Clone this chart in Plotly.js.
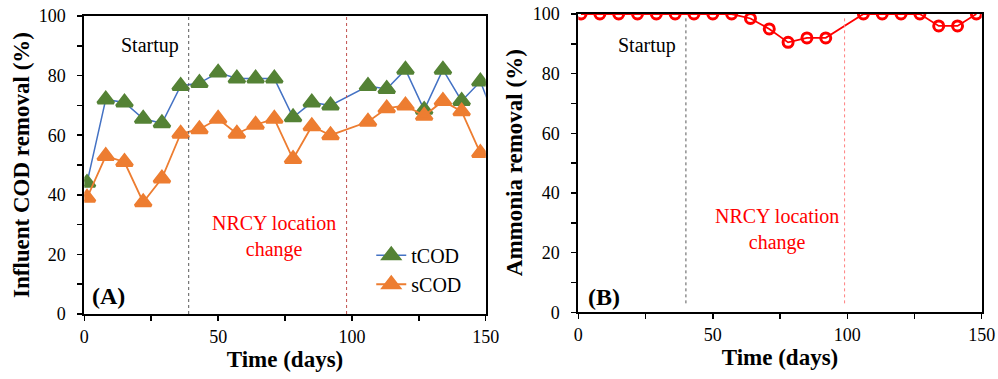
<!DOCTYPE html>
<html><head><meta charset="utf-8">
<script src="https://cdn.plot.ly/plotly-3.0.1.min.js"></script>
<style>html,body{margin:0;padding:0;background:#fff;}</style>
</head><body><div id="chart" style="width:998px;height:379px;"></div>
<script>
// ---- data ----
const days = [1,8,15,22,29,36,43,50,57,64,71,78,85,92,106,113,120,127,134,141,148];
const tCODdays = [1,8,15,22,29,36,43,50,57,64,71,78,85,92,106,113,120,127,134,141,148,155];
const tCOD = [44,72,71,65.5,64,76.5,77.5,81,79,79,79,66,71,70,76.5,75.5,82,68.5,82,71.5,78,62];
const sCOD = [39,53,51,37.5,45.5,60.5,62,65.5,60.5,63.5,65.5,52,63,60,64.5,69,70,66.5,71.5,68,54];
const ammonia = [100,100,100,100,100,100,100,100,100,98.5,95,90.5,92,92,100,100,100,100,96,96,100];
const phaseA = [39, 98];   // startup end, NRCY change (panel A)
const phaseB = [40, 99];   // panel B
const xTickVals = [0,50,100,150];
const yTickVals = [0,20,40,60,80,100];

const serif = 'Liberation Serif';
const traces = [
  {x: tCODdays, y: tCOD, name: 'tCOD', type: 'scatter', mode: 'lines+markers', xaxis: 'x', yaxis: 'y',
   line: {color: '#4472C4', width: 1.5},
   marker: {symbol: 'triangle-up', size: 14, color: '#548235', line: {color: '#548235', width: 3}}},
  {x: days, y: sCOD, name: 'sCOD', type: 'scatter', mode: 'lines+markers', xaxis: 'x', yaxis: 'y',
   line: {color: '#ED7D31', width: 1.8},
   marker: {symbol: 'triangle-up', size: 14, color: '#ED7D31', line: {color: '#ED7D31', width: 3}}},
  {x: days, y: ammonia, name: 'Ammonia', type: 'scatter', mode: 'lines+markers', xaxis: 'x2', yaxis: 'y2',
   showlegend: false,
   line: {color: '#FF0000', width: 1.8},
   marker: {symbol: 'circle-open', size: 10, color: '#FF0000', line: {color: '#FF0000', width: 3}}}
];

function axisBase(extra) {
  return Object.assign({
    showline: true, linewidth: 2, linecolor: '#000', mirror: true,
    ticks: 'outside', ticklen: 5, tickwidth: 1.5, tickcolor: '#000',
    showgrid: false, zeroline: false, automargin: false, fixedrange: true,
    tickfont: {family: serif, size: 18, color: '#000'}
  }, extra);
}
const titleFont = {family: serif, size: 23, color: '#000'};

const xCommon = {range: [0, 150], tickmode: 'array', tickvals: xTickVals,
  minor: {dtick: 25, tick0: 0, ticks: 'outside', ticklen: 5, tickwidth: 1.5, tickcolor: '#000', showgrid: false},
  title: {text: '<b>Time (days)</b>', font: titleFont, standoff: 2}};
const yCommon = {range: [0, 100], tickmode: 'array', tickvals: yTickVals, ticklabelstandoff: 8,
  minor: {dtick: 10, tick0: 0, ticks: 'outside', ticklen: 5, tickwidth: 1.5, tickcolor: '#000', showgrid: false}};

const shapes = [];
const dashColorsA = ['#595959', '#C0504D'];
const dashColorsB = ['#595959', '#FF8080'];
phaseA.forEach((d, i) => shapes.push({type: 'line', xref: 'x', yref: 'y domain', x0: d, x1: d, y0: 0, y1: 1,
  line: {color: dashColorsA[i], width: 1, dash: 'dot'}}));
phaseB.forEach((d, i) => shapes.push({type: 'line', xref: 'x2', yref: 'y2 domain', x0: d, x1: d, y0: 0.03, y1: 0.99,
  line: {color: dashColorsB[i], width: 1, dash: 'dot'}}));

const txt = (s, c) => ({family: serif, size: s, color: c || '#000'});
const annotations = [
  {xref: 'x', yref: 'y', x: 24.5, y: 90, text: 'Startup', showarrow: false, font: txt(20)},
  {xref: 'x', yref: 'y', x: 70.8, y: 26, text: 'NRCY location<br>change', showarrow: false, font: txt(20, '#FF0000')},
  {xref: 'x', yref: 'y', x: 9, y: 6, text: '<b>(A)</b>', showarrow: false, font: txt(24)},
  {xref: 'x2', yref: 'y2', x: 25.7, y: 89.3, text: 'Startup', showarrow: false, font: txt(20)},
  {xref: 'x2', yref: 'y2', x: 73.8, y: 27.6, text: 'NRCY location<br>change', showarrow: false, font: txt(20, '#FF0000')},
  {xref: 'x2', yref: 'y2', x: 9.6, y: 5, text: '<b>(B)</b>', showarrow: false, font: txt(24)},
  // y-axis titles
  {xref: 'paper', yref: 'y domain', x: 22 / 998, y: 0.5, xanchor: 'center', yanchor: 'middle', textangle: -90,
   showarrow: false, text: '<b>Influent COD removal (%)</b>', font: titleFont},
  {xref: 'paper', yref: 'y2 domain', x: 514 / 998, y: 0.5, xanchor: 'center', yanchor: 'middle', textangle: -90,
   showarrow: false, text: '<b>Ammonia removal (%)</b>', font: titleFont}
];

const layout = {
  width: 998, height: 379,
  margin: {l: 0, r: 0, t: 0, b: 0},
  paper_bgcolor: '#fff', plot_bgcolor: '#fff',
  font: {family: serif, color: '#000'},
  showlegend: true,
  legend: {x: 0.372, y: 0.378, xanchor: 'left', yanchor: 'top', bgcolor: 'rgba(0,0,0,0)',
    font: {family: serif, size: 20, color: '#000'}, tracegroupgap: 0, itemwidth: 30},
  xaxis: axisBase(Object.assign({domain: [0.0845, 0.4867], anchor: 'y'}, xCommon)),
  yaxis: axisBase(Object.assign({domain: [0.1715, 0.9578], anchor: 'x'}, yCommon)),
  xaxis2: axisBase(Object.assign({domain: [0.5795, 0.9837], anchor: 'y2'}, xCommon)),
  yaxis2: axisBase(Object.assign({domain: [0.176, 0.963], anchor: 'x2'}, yCommon)),
  shapes: shapes,
  annotations: annotations
};

Plotly.newPlot('chart', traces, layout, {displayModeBar: false, staticPlot: true});
</script></body></html>
